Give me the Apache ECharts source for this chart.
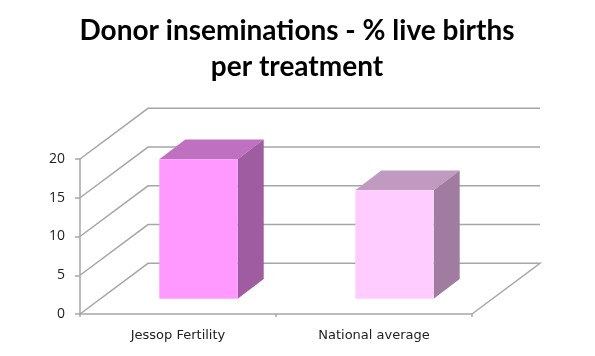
<!DOCTYPE html>
<html>
<head>
<meta charset="utf-8">
<title>Donor inseminations</title>
<script src="https://cdn.jsdelivr.net/npm/echarts@6/dist/echarts.min.js"></script>
<style>
html, body { margin: 0; padding: 0; background: #fff; }
#chart { width: 595px; height: 356px; }
</style>
</head>
<body>
<div id="chart"></div>
<script>
const categories = ['Jessop Fertility', 'National average'];
const liveBirths = [18, 14];
const yTicks = [0, 5, 10, 15, 20];

const FRONT_COLORS = ['#ff99ff', '#ffccff'];
const TOP_COLORS = ['#c070c0', '#c09ac0'];
const SIDE_COLORS = ['#a05ca0', '#a07ca0'];
const LINE_COLOR = '#a6a6a6';

// fake 3d: full depth of the box, and how far the bars sit back inside it
const DEPTH_X = 68, DEPTH_Y = -50.7;
const BAR_X = 20.5, BAR_Y = -15.3;
const BAR_DX = 26, BAR_DY = -19.6;

const chart = echarts.init(document.getElementById('chart'));

// side wall, back wall and floor edge
function renderWall(params, api) {
    const value = api.value(0);
    const start = api.coord([0, value]);
    const band = api.size([1, 0])[0];
    const x0 = start[0] - band / 2;
    const y0 = start[1];
    const points = [[x0, y0], [x0 + DEPTH_X, y0 + DEPTH_Y], [x0 + DEPTH_X + band * 2, y0 + DEPTH_Y]];
    if (value === 0) {
        points.push([x0 + band * 2, y0]);
    }
    return {
        type: 'polyline',
        shape: { points: points },
        style: { fill: null, stroke: LINE_COLOR, lineWidth: 1.5 }
    };
}

function renderBar(params, api) {
    const i = api.value(0);
    const top = api.coord([i, api.value(1)]);
    const bottom = api.coord([i, 0]);
    const w = api.size([1, 0])[0] * 0.4;
    const l = top[0] - w / 2 + BAR_X;
    const r = l + w;
    const t = top[1] + BAR_Y;
    const b = bottom[1] + BAR_Y;
    return {
        type: 'group',
        children: [
            {
                type: 'polygon',
                shape: { points: [[l, t], [l + BAR_DX, t + BAR_DY], [r + BAR_DX, t + BAR_DY], [r, t]] },
                style: { fill: TOP_COLORS[i] }
            },
            {
                type: 'polygon',
                shape: { points: [[r, t], [r + BAR_DX, t + BAR_DY], [r + BAR_DX, b + BAR_DY], [r, b]] },
                style: { fill: SIDE_COLORS[i] }
            },
            {
                type: 'rect',
                shape: { x: l, y: t, width: w, height: b - t },
                style: { fill: FRONT_COLORS[i] }
            }
        ]
    };
}

const option = {
    animation: false,
    backgroundColor: '#fff',
    title: {
        text: 'Donor inseminations - % live births\nper treatment',
        left: 292,
        top: 8,
        textAlign: 'center',
        textStyle: {
            fontFamily: 'Lato',
            fontSize: 28,
            fontWeight: 'bold',
            lineHeight: 36,
            color: '#000'
        }
    },
    grid: {
        left: 80,
        top: 159,
        width: 392,
        height: 155
    },
    xAxis: {
        type: 'category',
        data: categories,
        axisLine: { lineStyle: { color: LINE_COLOR, width: 1.5 } },
        axisTick: { show: true, length: 3, lineStyle: { color: LINE_COLOR, width: 1.5 } },
        axisLabel: {
            margin: 15,
            fontFamily: 'DejaVu Sans',
            fontSize: 13,
            color: '#222'
        }
    },
    yAxis: {
        type: 'value',
        min: 0,
        max: 20,
        interval: 5,
        splitLine: { show: false },
        axisLine: { show: true, lineStyle: { color: LINE_COLOR, width: 1.5 } },
        axisTick: { show: true, length: 5, lineStyle: { color: LINE_COLOR, width: 1.5 } },
        axisLabel: {
            margin: 15,
            padding: [3, 0, 0, 0],
            fontFamily: 'Open Sans',
            fontSize: 14,
            color: '#222'
        }
    },
    series: [
        {
            type: 'custom',
            name: 'wall',
            clip: false,
            silent: true,
            z: 1,
            renderItem: renderWall,
            data: yTicks.map(function (t) { return [t]; }),
            encode: { y: 0 }
        },
        {
            type: 'custom',
            name: '% live births',
            clip: false,
            z: 2,
            renderItem: renderBar,
            data: liveBirths.map(function (v, i) { return [i, v]; }),
            encode: { x: 0, y: 1 }
        }
    ]
};

chart.setOption(option);
</script>
</body>
</html>
